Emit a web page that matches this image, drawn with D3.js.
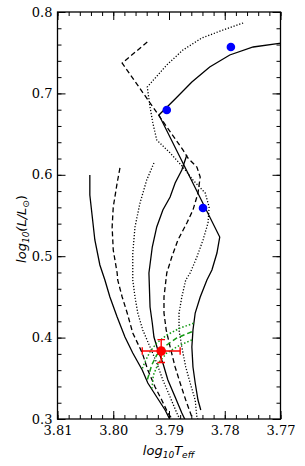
<!DOCTYPE html>
<html><head><meta charset="utf-8">
<script src="https://cdn.jsdelivr.net/npm/d3@7"></script>
<style>body{margin:0;background:#fff}svg{display:block}</style>
</head><body>
<svg id="c" width="305" height="466"></svg>
<script>
// ---- data (log Teff, log L/Lsun) ----
const solidA = [[3.8042,0.5998],[3.8042,0.5752],[3.8038,0.5506],[3.8033,0.5199],[3.8024,0.4892],[3.8015,0.4708],[3.8006,0.4499],[3.7993,0.4253],[3.7979,0.4007],[3.7965,0.3811],[3.7948,0.3602],[3.7938,0.3442],[3.7922,0.3270],[3.7907,0.3111],[3.7898,0.2988]];
const dashedB = [[3.7988,0.6084],[3.7993,0.5899],[3.8000,0.5604],[3.8002,0.5359],[3.8000,0.5076],[3.7993,0.4794],[3.7992,0.4708],[3.7984,0.4499],[3.7975,0.4302],[3.7965,0.4057],[3.7948,0.3811],[3.7938,0.3602],[3.7925,0.3393],[3.7913,0.3233],[3.7902,0.3074],[3.7893,0.2988]];
const dottedC = [[3.7927,0.6145],[3.7940,0.5936],[3.7952,0.5654],[3.7961,0.5359],[3.7965,0.5039],[3.7965,0.4708],[3.7961,0.4499],[3.7956,0.4302],[3.7947,0.4093],[3.7934,0.3885],[3.7922,0.3688],[3.7911,0.3479],[3.7898,0.3270],[3.7886,0.3074],[3.7880,0.2988]];
const solidD = [[3.7868,0.6243],[3.7877,0.6059],[3.7889,0.5899],[3.7898,0.5727],[3.7911,0.5568],[3.7922,0.5359],[3.7930,0.5113],[3.7936,0.4794],[3.7934,0.4376],[3.7930,0.4179],[3.7927,0.4007],[3.7920,0.3848],[3.7911,0.3688],[3.7902,0.3479],[3.7889,0.3270],[3.7877,0.3074],[3.7871,0.2988]];
const dashedF = [[3.7939,0.7631],[3.7984,0.7373],[3.7875,0.6305],[3.7866,0.6206],[3.7850,0.6096],[3.7844,0.5973],[3.7848,0.5776],[3.7857,0.5568],[3.7868,0.5408],[3.7884,0.5199],[3.7895,0.4990],[3.7904,0.4794],[3.7909,0.4499],[3.7909,0.4302],[3.7905,0.4093],[3.7898,0.3885],[3.7889,0.3639],[3.7880,0.3442],[3.7870,0.3233],[3.7859,0.3025],[3.7857,0.2988]];
const dottedG = [[3.7767,0.7865],[3.7803,0.7779],[3.7841,0.7681],[3.7875,0.7533],[3.7904,0.7349],[3.7939,0.7079],[3.7934,0.6833],[3.7929,0.6636],[3.7922,0.6428],[3.7898,0.6268],[3.7875,0.6096],[3.7857,0.5936],[3.7835,0.5776],[3.7828,0.5604],[3.7830,0.5408],[3.7839,0.5199],[3.7850,0.4990],[3.7862,0.4794],[3.7870,0.4708],[3.7877,0.4499],[3.7882,0.4302],[3.7882,0.4093],[3.7877,0.3885],[3.7870,0.3639],[3.7862,0.3442],[3.7853,0.3233],[3.7850,0.3025],[3.7848,0.2988]];
const solidE = [[3.7695,0.7622],[3.7749,0.7570],[3.7791,0.7472],[3.7827,0.7324],[3.7859,0.7140],[3.7889,0.6931],[3.7918,0.6735],[3.7809,0.5236],[3.7814,0.5039],[3.7823,0.4830],[3.7832,0.4708],[3.7844,0.4499],[3.7853,0.4302],[3.7857,0.4093],[3.7859,0.3885],[3.7857,0.3639],[3.7853,0.3442],[3.7848,0.3233],[3.7843,0.3111]];
const greenDotUpper = [[3.7856,0.4176],[3.7880,0.4118],[3.7904,0.4032],[3.7922,0.3934],[3.7934,0.3827],[3.7943,0.3704],[3.7949,0.3602]];
const greenDash = [[3.7859,0.4072],[3.7886,0.3995],[3.7904,0.3909],[3.7922,0.3786],[3.7931,0.3663],[3.7939,0.3479]];
const greenDotLower = [[3.7859,0.3971],[3.7880,0.3909],[3.7904,0.3811],[3.7919,0.3688],[3.7928,0.3540],[3.7931,0.3356]];
const blueStars = [[3.7789,0.7570],[3.7904,0.6796],[3.7839,0.5592]];
const target = {x:3.7914, y:0.3835, xerr:0.0034, yerr:0.014};
const xTicks = [3.81,3.80,3.79,3.78,3.77];
const yTicks = [0.3,0.4,0.5,0.6,0.7,0.8];

// ---- drawing ----
const svg = d3.select('#c');
const L=57.5, R=280.5, T=12, B=419;
const x = d3.scaleLinear().domain([3.81,3.77]).range([L,R]);
const y = d3.scaleLinear().domain([0.3,0.8]).range([B,T]);

svg.append('defs').append('clipPath').attr('id','clip')
  .append('rect').attr('x',L).attr('y',T).attr('width',R-L).attr('height',B-T);

const g = svg.append('g').attr('clip-path','url(#clip)');
const line = d3.line().x(d=>x(d[0])).y(d=>y(d[1]));
const tracks = [
  [solidA,'#000',null,1.3],[dashedB,'#000','5,3',1.3],[dottedC,'#000','1.2,1.8',1.3],
  [solidD,'#000',null,1.3],[dashedF,'#000','5,3',1.3],[dottedG,'#000','1.2,1.8',1.3],
  [solidE,'#000',null,1.3],
  [greenDotUpper,'#139913','1.5,2',1.5],[greenDash,'#139913','5,3',1.5],[greenDotLower,'#139913','1.5,2',1.5]
];
tracks.forEach(([d,c,da,w])=>{
  g.append('path').attr('d',line(d)).attr('fill','none').attr('stroke',c)
   .attr('stroke-width',w).attr('stroke-dasharray',da);
});

g.selectAll('circle.b').data(blueStars).enter().append('circle')
  .attr('cx',d=>x(d[0])).attr('cy',d=>y(d[1])).attr('r',4.3).attr('fill','#0000ff');

// error bars
const eb = g.append('g').attr('stroke','#ff0000').attr('stroke-width',1.4);
const cx=x(target.x), cy=y(target.y);
const x1=x(target.x+target.xerr), x2=x(target.x-target.xerr);
const y1=y(target.y+target.yerr), y2=y(target.y-target.yerr);
eb.append('line').attr('x1',x1).attr('x2',x2).attr('y1',cy).attr('y2',cy);
eb.append('line').attr('x1',cx).attr('x2',cx).attr('y1',y1).attr('y2',y2);
eb.append('line').attr('x1',x1).attr('x2',x1).attr('y1',cy-3.8).attr('y2',cy+3.8);
eb.append('line').attr('x1',x2).attr('x2',x2).attr('y1',cy-3.8).attr('y2',cy+3.8);
eb.append('line').attr('x1',cx-3.8).attr('x2',cx+3.8).attr('y1',y1).attr('y2',y1);
eb.append('line').attr('x1',cx-3.8).attr('x2',cx+3.8).attr('y1',y2).attr('y2',y2);
g.append('circle').attr('cx',cx).attr('cy',cy).attr('r',4.8).attr('fill','#ff0000');

// axes
const xMinor = d3.range(3.77,3.8101,0.002).map(v=>+v.toFixed(3));
const yMinor = d3.range(0.3,0.8001,0.02).map(v=>+v.toFixed(2));
function styleAxis(sel){ sel.select('.domain').remove(); sel.selectAll('line').attr('stroke','#000').attr('stroke-width',1); }
const fontTick = 'DejaVu Serif';
// bottom
svg.append('g').attr('transform',`translate(0,${B})`)
  .call(d3.axisBottom(x).tickValues(xMinor).tickSize(-4).tickFormat('')).call(styleAxis);
svg.append('g').attr('transform',`translate(0,${B})`)
  .call(d3.axisBottom(x).tickValues(xTicks).tickSize(-8).tickPadding(5).tickFormat(d3.format('.2f')))
  .call(styleAxis).call(s=>s.selectAll('text').attr('font-family',fontTick).attr('font-size',13).attr('fill','#000').attr('dy','0.71em').attr('y',6.5));
// top
svg.append('g').attr('transform',`translate(0,${T})`)
  .call(d3.axisTop(x).tickValues(xMinor).tickSize(-4).tickFormat('')).call(styleAxis);
svg.append('g').attr('transform',`translate(0,${T})`)
  .call(d3.axisTop(x).tickValues(xTicks).tickSize(-8).tickFormat('')).call(styleAxis);
// left
svg.append('g').attr('transform',`translate(${L},0)`)
  .call(d3.axisLeft(y).tickValues(yMinor).tickSize(-4).tickFormat('')).call(styleAxis);
svg.append('g').attr('transform',`translate(${L},0)`)
  .call(d3.axisLeft(y).tickValues(yTicks).tickSize(-8).tickPadding(5).tickFormat(d3.format('.1f')))
  .call(styleAxis).call(s=>s.selectAll('text').attr('font-family',fontTick).attr('font-size',13).attr('fill','#000').attr('x',-5));
// right
svg.append('g').attr('transform',`translate(${R},0)`)
  .call(d3.axisRight(y).tickValues(yMinor).tickSize(-4).tickFormat('')).call(styleAxis);
svg.append('g').attr('transform',`translate(${R},0)`)
  .call(d3.axisRight(y).tickValues(yTicks).tickSize(-8).tickFormat('')).call(styleAxis);

// frame
svg.append('rect').attr('x',L).attr('y',T).attr('width',R-L).attr('height',B-T)
  .attr('fill','none').attr('stroke','#000').attr('stroke-width',1.3);

// axis labels
const xl = svg.append('text').attr('x',(L+R)/2-0.5).attr('y',455).attr('text-anchor','middle')
  .attr('font-family','DejaVu Sans').attr('font-style','italic').attr('font-size',13).attr('fill','#000');
xl.append('tspan').text('log');
xl.append('tspan').attr('font-size',9).attr('dy',3).text('10');
xl.append('tspan').attr('dy',-3).text('T');
xl.append('tspan').attr('font-size',9).attr('dy',3).text('eff');

const yl = svg.append('text').attr('transform','translate(26,229) rotate(-90)').attr('text-anchor','middle')
  .attr('font-family','DejaVu Sans').attr('font-style','italic').attr('font-size',13).attr('fill','#000');
yl.append('tspan').text('log');
yl.append('tspan').attr('font-size',9).attr('dy',3).text('10');
yl.append('tspan').attr('dy',-3).text('(L/L');
yl.append('tspan').attr('font-size',9).attr('dy',3).attr('font-style','normal').text('⊙');
yl.append('tspan').attr('dy',-3).attr('font-style','normal').text(')');
</script>
</body></html>
